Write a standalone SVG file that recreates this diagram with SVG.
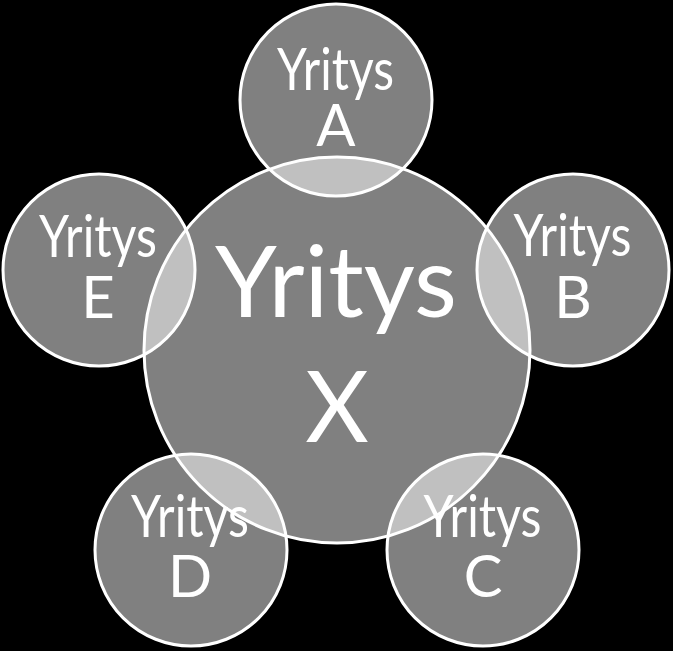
<svg xmlns="http://www.w3.org/2000/svg" width="673" height="651" viewBox="0 0 673 651">
<style>
.c{fill:#ffffff;fill-opacity:0.5;stroke:#ffffff;stroke-width:3}
.t{fill:#ffffff;font-family:Lato,"Open Sans","Liberation Sans",sans-serif;text-anchor:middle}
.s{font-size:58px}
.b{font-size:98px}
</style>
<rect x="0" y="0" width="673" height="651" fill="#000000"/>
<g id="nodeX"><circle class="c" cx="337" cy="350" r="193"/></g>
<g id="nodeA"><circle class="c" cx="336" cy="100" r="96"/></g>
<g id="nodeB"><circle class="c" cx="573" cy="270" r="96"/></g>
<g id="nodeC"><circle class="c" cx="483" cy="550" r="96"/></g>
<g id="nodeD"><circle class="c" cx="191" cy="550" r="96"/></g>
<g id="nodeE"><circle class="c" cx="99" cy="270" r="96"/></g>
<g id="connectors"/>
<g id="labels">
<text class="t b" x="336" y="317" textLength="242" lengthAdjust="spacingAndGlyphs">Yritys</text>
<text class="t b" x="337" y="442">X</text>
<text class="t s" x="335.5" y="90" textLength="117" lengthAdjust="spacingAndGlyphs">Yritys</text>
<text class="t s" x="336" y="146">A</text>
<text class="t s" x="572.5" y="256" textLength="118" lengthAdjust="spacingAndGlyphs">Yritys</text>
<text class="t s" x="573" y="318">B</text>
<text class="t s" x="482.5" y="537" textLength="118" lengthAdjust="spacingAndGlyphs">Yritys</text>
<text class="t s" x="483" y="597">C</text>
<text class="t s" x="190" y="537" textLength="118" lengthAdjust="spacingAndGlyphs">Yritys</text>
<text class="t s" x="190" y="597">D</text>
<text class="t s" x="98" y="257" textLength="118" lengthAdjust="spacingAndGlyphs">Yritys</text>
<text class="t s" x="98" y="318">E</text>
</g>
</svg>
